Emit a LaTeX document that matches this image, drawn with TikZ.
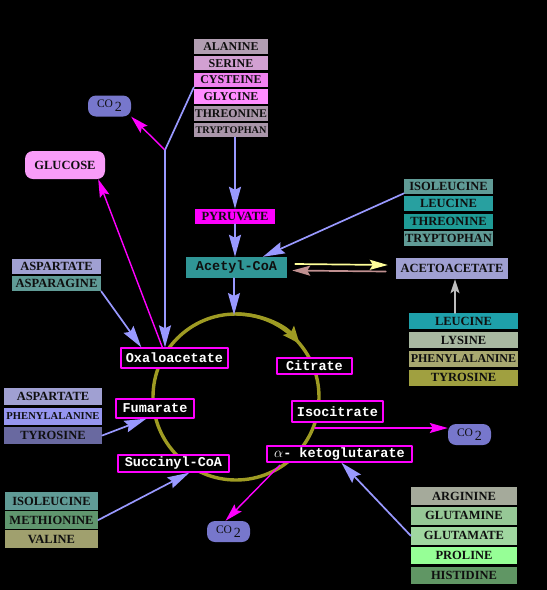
\documentclass[tikz,border=0pt]{standalone}
\usepackage{fontspec}
\setmainfont{Liberation Serif}
\newfontfamily\cycfont{Liberation Mono}
\usetikzlibrary{arrows.meta,positioning}

\definecolor{ink}{RGB}{15,15,15}
\definecolor{fuchsia}{RGB}{255,0,255}
\definecolor{feedblue}{RGB}{153,153,255}
\definecolor{ringolive}{RGB}{158,155,35}
\definecolor{coblue}{RGB}{119,119,204}
\definecolor{glupink}{RGB}{249,156,249}
\definecolor{mauvegray}{RGB}{178,158,178}
\definecolor{mauve}{RGB}{210,160,210}
\definecolor{pinkish}{RGB}{240,130,240}
\definecolor{pinklight}{RGB}{255,140,255}
\definecolor{mauvedark}{RGB}{170,150,170}
\definecolor{acetyl}{RGB}{48,150,150}
\definecolor{tealgray}{RGB}{96,155,150}
\definecolor{teal}{RGB}{40,160,160}
\definecolor{tealdeep}{RGB}{30,155,150}
\definecolor{lavender}{RGB}{160,160,210}
\definecolor{tealbright}{RGB}{30,160,170}
\definecolor{sage}{RGB}{168,184,160}
\definecolor{olivegray}{RGB}{168,168,112}
\definecolor{olive}{RGB}{160,160,64}
\definecolor{periwinkle}{RGB}{150,150,240}
\definecolor{slate}{RGB}{105,105,160}
\definecolor{greengray}{RGB}{96,150,110}
\definecolor{khaki}{RGB}{160,160,110}
\definecolor{sagegray}{RGB}{165,170,155}
\definecolor{mint}{RGB}{150,200,150}
\definecolor{mintlight}{RGB}{160,215,160}
\definecolor{mintbright}{RGB}{150,255,150}
\definecolor{greendark}{RGB}{96,150,100}
\definecolor{paleyellow}{RGB}{255,255,153}
\definecolor{rosybrown}{RGB}{192,144,144}
\definecolor{arrgray}{RGB}{190,190,190}

\begin{document}
\begin{tikzpicture}[x=1pt,y=1pt,line cap=round,line join=round,
  acid/.style={fill=#1,text=ink,inner sep=0pt,anchor=north,
    font=\fontsize{12.5}{13}\selectfont\bfseries},
  fsize/.style={font=\fontsize{#1}{13}\selectfont\bfseries},
  plainbox/.style={fill=#1,text=ink,inner sep=0pt},
  met/.style={draw=fuchsia,fill=black,text=white,line width=1.3pt,inner sep=0pt,
    font=\cycfont\fontsize{13.5}{14}\selectfont\bfseries},
  cotwo/.style={fill=coblue,rounded corners=8pt,minimum width=43pt,minimum height=21pt,
    inner sep=0pt,text=ink,font=\fontsize{11.5}{12}\selectfont},
  ring/.style={draw=ringolive,line width=3.4pt},
  feed/.style={draw=feedblue,line width=1.7pt,-{Stealth[length=22pt,width=12pt,inset=3pt]}},
  loss/.style={draw=fuchsia,line width=1.4pt,-{Stealth[length=18pt,width=10pt,inset=3pt]}}]

  % background and page size
  \fill[black] (0,0) rectangle (547,-590);
  \useasboundingbox (0,0) rectangle (547,-590);

  % the cycle
  \draw[ring] (236,-397) circle[radius=83];
  \draw[ring,-{Stealth[length=17pt,width=14pt,inset=3pt]}] (236,-314)
    arc[start angle=90,end angle=40,radius=83];
  \coordinate (cyctop) at (234,-315);
  \coordinate (isoout) at (315,-428);
  \coordinate (akgout) at (280,-465);

  % top stack
  \begin{scope}[node distance=1.8pt,every node/.append style={minimum width=74pt,minimum height=14.5pt}]
    \node[acid=mauvegray,fsize=12] (ala) at (231,-39) {ALANINE};
    \node[acid=mauve,fsize=12,below=of ala] (ser) {SERINE};
    \node[acid=pinkish,fsize=12,below=of ser] (cys) {CYSTEINE};
    \node[acid=pinklight,fsize=12,below=of cys] (gly) {GLYCINE};
    \node[acid=mauvedark,fsize=11.8,below=of gly] (thr) {THREONINE};
    \node[acid=mauvedark,fsize=10.2,below=of thr] (trp) {TRYPTOPHAN};
  \end{scope}

  % right stack to acetyl-CoA
  \begin{scope}[node distance=1.8pt,every node/.append style={minimum width=89pt,minimum height=15pt}]
    \node[acid=tealgray] (ile) at (448.5,-179) {ISOLEUCINE};
    \node[acid=teal,below=of ile] (leu) {LEUCINE};
    \node[acid=tealdeep,below=of leu] (thrb) {THREONINE};
    \node[acid=tealgray,below=of thrb] (trpb) {TRYPTOPHAN};
  \end{scope}

  % stack to acetoacetate
  \begin{scope}[node distance=2.5pt,every node/.append style={minimum width=109pt,minimum height=16pt}]
    \node[acid=tealbright] (leuc) at (463.5,-313) {LEUCINE};
    \node[acid=sage,below=of leuc] (lys) {LYSINE};
    \node[acid=olivegray,fsize=12,below=of lys] (phe) {PHENYLALANINE};
    \node[acid=olive,below=of phe] (tyr) {TYROSINE};
  \end{scope}

  % stack to oxaloacetate
  \begin{scope}[node distance=1.5pt,every node/.append style={minimum width=89pt,minimum height=15pt}]
    \node[acid=lavender] (asp) at (56.5,-259) {ASPARTATE};
    \node[acid=tealgray,below=of asp] (asn) {ASPARAGINE};
  \end{scope}

  % stack to fumarate
  \begin{scope}[node distance=2pt,every node/.append style={minimum width=98pt,minimum height=17pt}]
    \node[acid=lavender] (aspb) at (53,-388) {ASPARTATE};
    \node[acid=periwinkle,fsize=10.6,below=of aspb] (pheb) {PHENYLALANINE};
    \node[acid=slate,below=of pheb] (tyrb) {TYROSINE};
  \end{scope}

  % stack to succinyl-CoA
  \begin{scope}[node distance=1.2pt,every node/.append style={minimum width=93pt,minimum height=17.5pt}]
    \node[acid=tealgray] (ilec) at (51.5,-492) {ISOLEUCINE};
    \node[acid=greengray,below=of ilec] (meth) {METHIONINE};
    \node[acid=khaki,below=of meth] (val) {VALINE};
  \end{scope}

  % stack to alpha-ketoglutarate
  \begin{scope}[node distance=2pt,every node/.append style={minimum width=106pt,minimum height=17.5pt}]
    \node[acid=sagegray] (arg) at (464,-487) {ARGININE};
    \node[acid=mint,below=of arg] (gln) {GLUTAMINE};
    \node[acid=mintlight,below=of gln] (glu) {GLUTAMATE};
    \node[acid=mintbright,below=of glu] (pro) {PROLINE};
    \node[acid=greendark,below=of pro] (his) {HISTIDINE};
  \end{scope}

  % single boxes
  \node[acid=fuchsia,anchor=center,minimum width=80pt,minimum height=15pt] (pyr) at (235,-216.5) {PYRUVATE};
  \node[plainbox=acetyl,minimum width=101pt,minimum height=21pt,
    font=\cycfont\fontsize{13.5}{14}\selectfont\bfseries] (acc) at (236.5,-267.5) {Acetyl-CoA};
  \node[acid=lavender,anchor=center,minimum width=112pt,minimum height=21pt] (aca) at (452,-268.5) {ACETOACETATE};
  \node[acid=glupink,anchor=center,rounded corners=8pt,minimum width=80pt,minimum height=28pt] (gluc) at (65,-165) {GLUCOSE};
  \node[cotwo] (co2a) at (109.5,-106) {CO\,\raisebox{-4pt}{\fontsize{14}{14}\selectfont 2}};
  \node[cotwo] (co2b) at (469.5,-434.5) {CO\,\raisebox{-4pt}{\fontsize{14}{14}\selectfont 2}};
  \node[cotwo] (co2c) at (228.5,-531.5) {CO\,\raisebox{-4pt}{\fontsize{14}{14}\selectfont 2}};

  % cycle intermediates
  \node[met,minimum width=107pt,minimum height=20pt] (oxa) at (174.5,-358) {Oxaloacetate};
  \node[met,minimum width=75pt,minimum height=16pt] (cit) at (314.5,-366) {Citrate};
  \node[met,minimum width=78pt,minimum height=19pt] (fum) at (155,-408.5) {Fumarate};
  \node[met,minimum width=91pt,minimum height=21pt] (iso) at (337.5,-411.5) {Isocitrate};
  \node[met,minimum width=145pt,minimum height=16pt] (akg) at (339.5,-454) {$\alpha$- ketoglutarate};
  \node[met,minimum width=111pt,minimum height=17pt] (suc) at (173.5,-463.5) {Succinyl-CoA};

  % connectors
  \coordinate (fork) at (165,-150);
  \draw[draw=feedblue,line width=1.7pt] (cys.south west) -- (fork);
  \draw[loss] (fork) -- (co2a.south east);
  \draw[feed] (fork) -- (fork |- oxa.north);
  \draw[loss] ([xshift=42pt]oxa.north west) -- ([xshift=-7pt]gluc.south east);
  \draw[feed] (pyr.north |- trp.south) -- (pyr.north);
  \draw[feed] (pyr.south) -- (pyr.south |- acc.north);
  \draw[feed] (acc.south -| cyctop) -- (cyctop);
  \draw[feed] ([yshift=1pt]ile.south west) -- ([xshift=77pt]acc.north west);
  \draw[draw=paleyellow,line width=1.7pt,-{Stealth[length=18pt,width=10pt,inset=3pt]}]
    ([xshift=8pt,yshift=3.5pt]acc.east) -- ([xshift=-8pt,yshift=3.5pt]aca.west);
  \draw[draw=rosybrown,line width=1.7pt,-{Stealth[length=18pt,width=10pt,inset=3pt]}]
    ([xshift=-10pt,yshift=-3pt]aca.west) -- ([xshift=5pt,yshift=-3pt]acc.east);
  \draw[draw=arrgray,line width=1.7pt,-{Stealth[length=14pt,width=9pt,inset=3pt]}]
    ([xshift=3pt]aca.south |- leuc.north) -- ([xshift=3pt]aca.south);
  \draw[feed] (asn.south east) -- ([xshift=21pt]oxa.north west);
  \draw[feed] (tyrb.east) -- ([xshift=31pt]fum.south west);
  \draw[feed] (meth.east) -- ([xshift=72pt]suc.south west);
  \draw[feed] (glu.west) -- ([xshift=75pt]akg.south west);
  \draw[loss] (isoout) -- (isoout -| co2b.west);
  \draw[loss] (akgout) -- ([xshift=-3pt]co2c.north);
\end{tikzpicture}
\end{document}
